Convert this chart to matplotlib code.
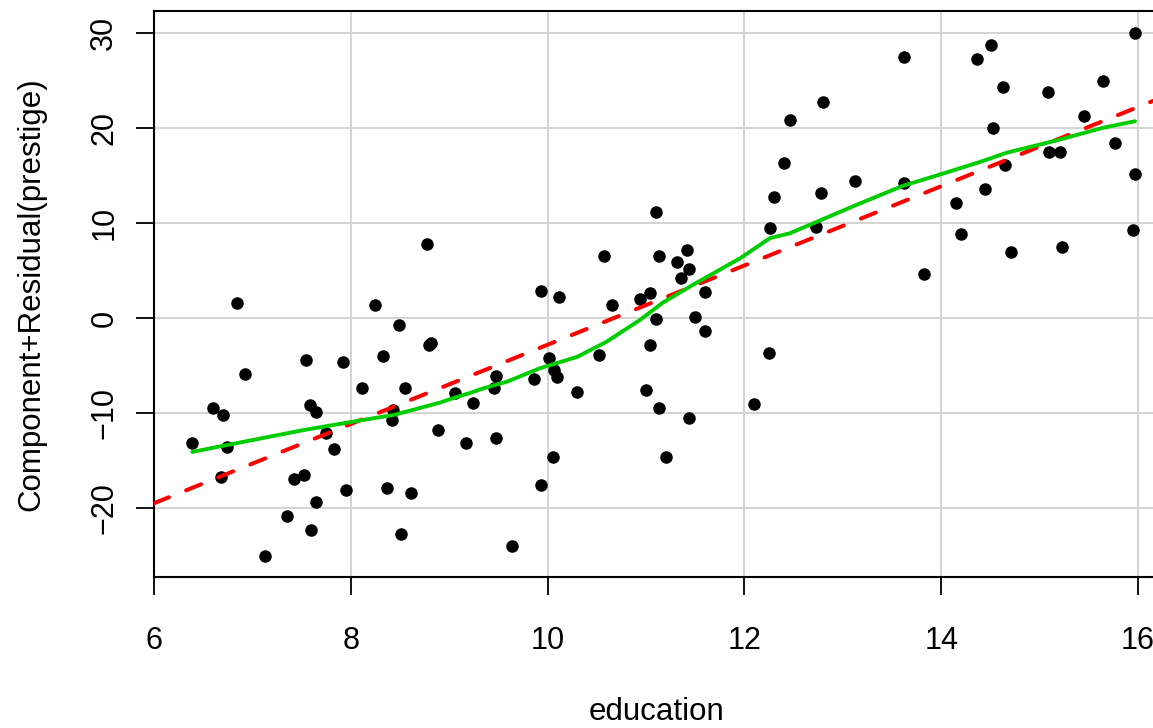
import numpy as np
import matplotlib
matplotlib.use('Agg')
import matplotlib.pyplot as plt

# partial residuals for education
education = [
    6.39, 6.60, 6.70, 6.74, 6.68, 6.84, 6.92, 7.13, 7.35, 7.42,
    7.54, 7.52, 7.59, 7.65, 7.60, 7.65, 7.75, 7.83, 7.92, 7.95,
    8.11, 8.25, 8.33, 8.37, 8.42, 8.43, 8.49, 8.51, 8.55, 8.61,
    8.77, 8.79, 8.82, 8.89, 9.06, 9.17, 9.24,
    9.48, 9.46, 9.48, 9.64, 9.86, 9.93, 9.93, 10.01, 10.07, 10.10,
    10.05, 10.12, 10.30, 10.52, 10.57, 10.65, 10.94, 11.04, 11.10, 11.10,
    11.04, 11.00, 11.13, 11.13, 11.20, 11.32, 11.42, 11.44, 11.36, 11.60,
    11.50, 11.60, 11.44, 12.10, 12.25, 12.26,
    15.97, 14.51, 14.36, 13.62, 14.63, 15.64, 15.09, 12.80, 12.46, 15.45,
    14.53, 15.77, 15.10, 15.21, 12.40, 14.65, 15.97, 13.12, 13.62, 14.45,
    12.30, 12.78, 14.15, 12.73, 14.20, 15.95, 15.23, 14.71, 13.83,
]
comp_resid = [
    -13.2, -9.5, -10.2, -13.6, -16.7, 1.6, -5.9, -25.1, -20.8, -16.9,
    -4.4, -16.5, -9.2, -9.9, -22.3, -19.4, -12.1, -13.8, -4.6, -18.1,
    -7.4, 1.4, -4.0, -17.9, -10.7, -9.7, -0.7, -22.7, -7.4, -18.4,
    7.8, -2.8, -2.6, -11.8, -7.9, -13.2, -8.9,
    -6.1, -7.4, -12.6, -24.0, -6.4, 2.8, -17.6, -4.2, -5.5, -6.2,
    -14.6, 2.2, -7.8, -3.9, 6.5, 1.4, 2.0, 2.6, 11.1, -0.1,
    -2.8, -7.6, 6.5, -9.5, -14.6, 5.9, 7.2, 5.2, 4.2, 2.7,
    0.1, -1.4, -10.5, -9.1, -3.7, 9.5,
    30.0, 28.7, 27.3, 27.5, 24.3, 24.9, 23.8, 22.7, 20.8, 21.3,
    20.0, 18.4, 17.5, 17.5, 16.3, 16.1, 15.1, 14.4, 14.2, 13.6,
    12.7, 13.2, 12.1, 9.6, 8.8, 9.3, 7.5, 6.9, 4.6,
]

# linear fit (red dashed): value at x=6 and slope
fit_at6 = -19.5
fit_slope = 4.17

# smoother (green)
smooth_x = [6.39, 6.68, 7.52, 8.03, 8.44, 8.91, 9.05, 9.21, 9.35, 9.59,
            9.92, 10.30, 10.60, 10.94, 11.17, 11.48, 11.96, 12.26, 12.46,
            12.80, 13.14, 13.61, 13.99, 14.39, 14.67, 15.18, 15.64, 15.97]
smooth_y = [-14.1, -13.5, -11.8, -10.9, -10.2, -8.9, -8.4, -7.9, -7.4, -6.7,
            -5.3, -4.1, -2.5, -0.2, 1.6, 3.5, 6.3, 8.4, 8.9,
            10.4, 11.9, 13.9, 15.1, 16.4, 17.4, 18.7, 20.0, 20.7]

xticks = [6, 8, 10, 12, 14, 16]
yticks = [-20, -10, 0, 10, 20, 30]

plt.rcParams['font.family'] = ['Liberation Sans', 'DejaVu Sans']

fig = plt.figure(figsize=(11.53, 7.28), dpi=100)
ax = fig.add_axes([154/1153, 1 - 577/728, 1006/1153, 566/728])

xlim = (6, 16 + 1006/98.4 - 10)
ax.set_xlim(xlim)
ax.set_ylim(-27.26, 32.3)

ax.set_xticks(xticks)
ax.set_yticks(yticks)
ax.grid(True, color='#d3d3d3', linewidth=1.4)
ax.set_axisbelow(True)

ax.plot(education, comp_resid, 'o', color='black', markersize=8, zorder=3)

xs = np.array(xlim)
ax.plot(xs, fit_at6 + fit_slope * (xs - 6), color='#ff0000', linewidth=2.9,
        dashes=(4, 4.6), dash_capstyle='round', zorder=4)
ax.plot(smooth_x, smooth_y, color='#00cd00', linewidth=2.8,
        solid_capstyle='round', solid_joinstyle='round', zorder=5)

for sp in ax.spines.values():
    sp.set_linewidth(1.5)
ax.tick_params(direction='out', length=13, width=1.3, labelsize=22, pad=22)
ax.tick_params(axis='y', labelrotation=90, pad=12)
for lab in ax.get_yticklabels():
    lab.set_va('center')

ax.set_xlabel('education', fontsize=22.5, labelpad=30)
ax.set_ylabel('Component+Residual(prestige)', fontsize=22.5, labelpad=31)

fig.savefig('out.png', dpi=100)
